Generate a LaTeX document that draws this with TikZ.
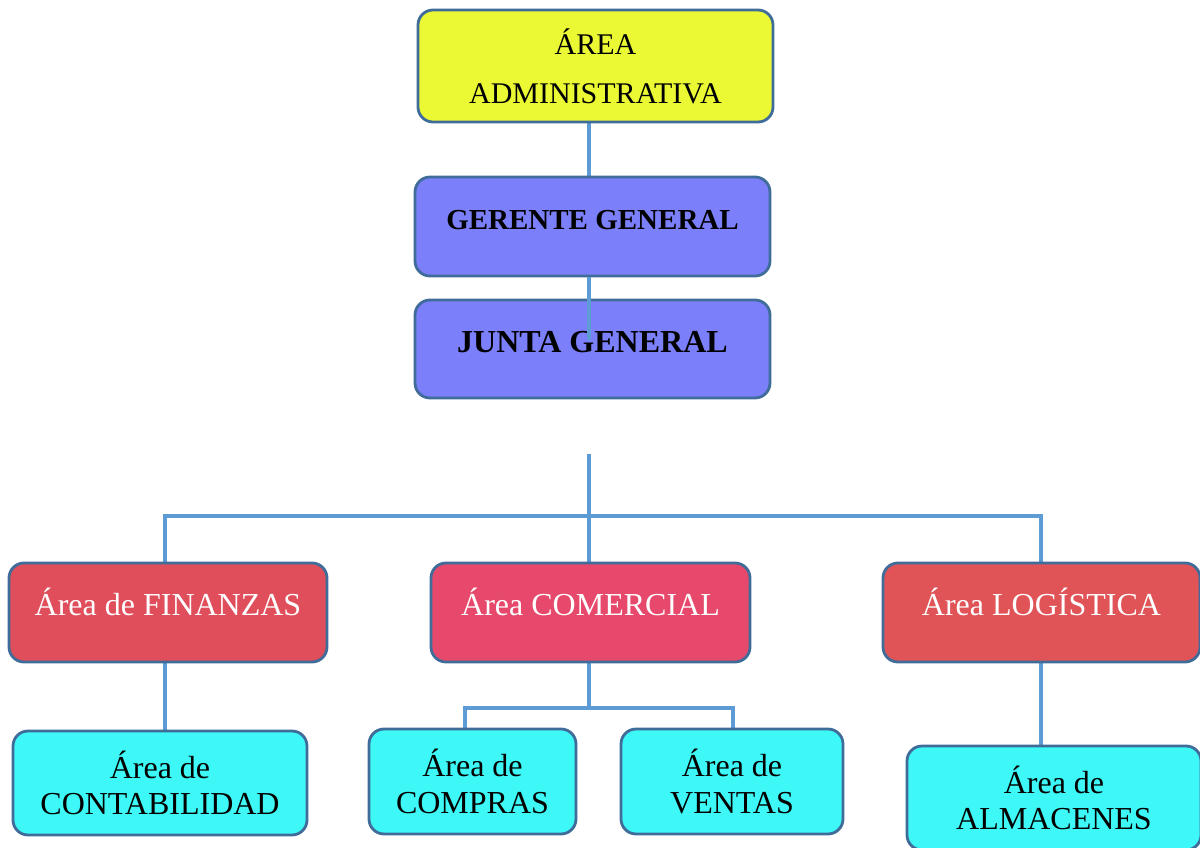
\documentclass[tikz,border=0pt]{standalone}
\usepackage{fontspec}
\setmainfont{Liberation Serif}
\usetikzlibrary{backgrounds}
\definecolor{bordc}{RGB}{64,108,154}
\definecolor{linkc}{RGB}{93,155,213}
\definecolor{yelc}{RGB}{235,249,53}
\definecolor{bluc}{RGB}{123,127,250}
\definecolor{finc}{RGB}{224,78,92}
\definecolor{comc}{RGB}{230,73,107}
\definecolor{logc}{RGB}{224,84,88}
\definecolor{cyac}{RGB}{62,247,247}
\tikzset{
  box/.style={draw=bordc, line width=2.8pt, rounded corners=15pt, inner sep=0pt, align=center},
  onel/.style={text height=20pt, text depth=14pt},
  link/.style={draw=linkc, line width=3.5pt},
  regf/.style={font=\fontsize{32}{36.5}\selectfont},
}
\begin{document}
\begin{tikzpicture}[x=1pt,y=-1pt]
\useasboundingbox (0,0) rectangle (1200,848);
\clip (0,0) rectangle (1200,848);
% boxes
\node[box, fill=yelc, minimum width=355pt, minimum height=112pt,
      font=\fontsize{30}{49}\selectfont] (adm) at (595.5,66) {ÁREA\\ADMINISTRATIVA};
\node[box, onel, fill=bluc, minimum width=355pt, minimum height=99pt,
      font=\fontsize{29}{34}\selectfont\bfseries] (ger) at (592.5,226.5) {GERENTE GENERAL};
\node[box, onel, fill=bluc, minimum width=355pt, minimum height=98pt,
      font=\fontsize{32}{36}\selectfont\bfseries] (jun) at (592.5,349) {JUNTA GENERAL};
\node[box, onel, regf, fill=finc, text=white, minimum width=318pt, minimum height=99pt] (fin) at (168,612.5) {Área de FINANZAS};
\node[box, onel, regf, fill=comc, text=white, minimum width=319pt, minimum height=99pt] (com) at (590.5,612.5) {Área COMERCIAL};
\node[box, onel, regf, fill=logc, text=white, minimum width=317pt, minimum height=99pt] (log) at (1041.5,612.5) {Área LOGÍSTICA};
\node[box, regf, fill=cyac, minimum width=294pt, minimum height=104pt] (con) at (160,783) {Área de\\CONTABILIDAD};
\node[box, regf, fill=cyac, minimum width=207pt, minimum height=105pt] (cmp) at (472.5,781.5) {Área de\\COMPRAS};
\node[box, regf, fill=cyac, minimum width=222pt, minimum height=105pt] (ven) at (732,781.5) {Área de\\VENTAS};
\node[box, regf, fill=cyac, minimum width=294pt, minimum height=104pt] (alm) at (1054,798) {Área de\\ALMACENES};
% helper coordinates
\coordinate (tx) at (589,0);
\coordinate (jin) at (589,340);
\coordinate (stub) at (589,454);
\coordinate (bar) at (589,516);
\coordinate (fx) at (165,0);
\coordinate (lx) at (1041,0);
\coordinate (cbar) at (589,708);
\coordinate (px) at (465,0);
\coordinate (vx) at (733,0);
\begin{scope}[on background layer]
\draw[link] (adm.south -| tx) -- (ger.north -| tx);
\draw[link] (stub) -- (com.north -| tx);
\draw[link] (fin.north -| fx) -- (bar -| fx) -- (bar -| lx) -- (log.north -| lx);
\draw[link] (fin.south -| fx) -- (con.north -| fx);
\draw[link] (com.south -| tx) -- (cbar);
\draw[link] (cmp.north -| px) -- (cbar -| px) -- (cbar -| vx) -- (ven.north -| vx);
\draw[link] (log.south -| lx) -- (alm.north -| lx);
\end{scope}
\draw[link] (ger.south -| tx) -- (jin);
\end{tikzpicture}
\end{document}
